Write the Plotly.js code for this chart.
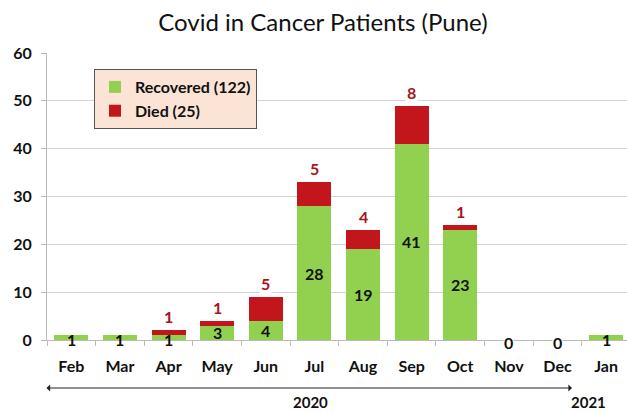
<!DOCTYPE html>
<html><head><meta charset="utf-8">
<script src="https://cdn.plot.ly/plotly-3.0.1.min.js"></script>
<style>body{margin:0;background:#fff}#c{width:627px;height:412px}</style>
</head><body><div id="c"></div>
<script>
const months = ["Feb","Mar","Apr","May","Jun","Jul","Aug","Sep","Oct","Nov","Dec","Jan"];
const recovered = [1,1,1,3,4,28,19,41,23,0,0,1];
const died = [0,0,1,1,5,5,4,8,1,0,0,0];
const yTicks = [0,10,20,30,40,50,60];
const FONT = "Lato, 'Open Sans', sans-serif";

const traces = [
  {type:'bar', name:'Recovered (122)', x:months, y:recovered, marker:{color:'#92d050'}, width:0.7, hoverinfo:'none'},
  {type:'bar', name:'Died (25)', x:months, y:died, marker:{color:'#c3161c'}, width:0.7, hoverinfo:'none'}
];

const ann = [];
months.forEach((m,i)=>{
  const r = recovered[i];
  if (r > 0 || died[i] === 0) {
    ann.push({x:m, y:r/2, xref:'x', yref:'y', text:String(r), showarrow:false,
      font:{family:FONT, size:16, color:'#111', weight:'bold'},
      bgcolor: r===0 ? '#ffffff' : 'rgba(0,0,0,0)', yshift: r<=1 ? -2 : 0, borderpad:0});
  }
  if (died[i] > 0) {
    ann.push({x:m, y:r+died[i], xref:'x', yref:'y', text:String(died[i]), showarrow:false,
      yanchor:'bottom', yshift:2, bgcolor:'#ffffff',
      font:{family:FONT, size:16, color:'#a8141c', weight:'bold'}});
  }
});
ann.push({xref:'paper', yref:'paper', x:(572-47)/580, y:-(388-340)/287, ax:-527, ay:0, text:'',
  showarrow:true, arrowhead:1, arrowside:'end+start', arrowsize:1.2, arrowwidth:1, arrowcolor:'#222'});
ann.push({xref:'paper', yref:'paper', x:(310-47)/580, y:-(402-340)/287, yanchor:'middle', text:'2020', showarrow:false,
  font:{family:FONT, size:15, color:'#111', weight:'bold'}, borderpad:0});
ann.push({xref:'paper', yref:'paper', x:(607-47)/580, y:-(402-340)/287, yanchor:'middle', text:'2021', showarrow:false,
  font:{family:FONT, size:15, color:'#111', weight:'bold'}, borderpad:0});

const layout = {
  width:627, height:412,
  margin:{l:47, r:0, t:53, b:72},
  paper_bgcolor:'#fff', plot_bgcolor:'#fff',
  barmode:'stack', bargap:0.3,
  title:{text:'Covid in Cancer Patients (Pune)', x:0.515, xanchor:'center', y:0.945, yanchor:'middle',
    font:{family:FONT, size:24, color:'#111'}},
  showlegend:true,
  legend:{x:(94-47)/580, y:(340-69)/287, xanchor:'left', yanchor:'top', bgcolor:'#fbe4d5',
    bordercolor:'#555', borderwidth:1, traceorder:'normal',
    font:{family:FONT, size:16, color:'#111', weight:'bold'}, tracegroupgap:0},
  xaxis:{type:'category', range:[-0.5, 11.43], showgrid:false, showline:true, linecolor:'#bbb',
    ticks:'outside', tickson:'boundaries', ticklen:5, tickcolor:'#bbb', ticklabelstandoff:12,
    tickfont:{family:FONT, size:16, color:'#111', weight:'bold'}, fixedrange:true},
  yaxis:{range:[0,60], tickvals:yTicks, showgrid:true, gridcolor:'#d4d4d4', showline:true, linecolor:'#bbb',
    ticks:'outside', ticklen:5, tickcolor:'#bbb', zeroline:false, ticklabelstandoff:6,
    tickfont:{family:FONT, size:16, color:'#111', weight:'bold'}, fixedrange:true},
  annotations:ann
};
Plotly.newPlot('c', traces, layout, {displayModeBar:false, staticPlot:true});
</script></body></html>
